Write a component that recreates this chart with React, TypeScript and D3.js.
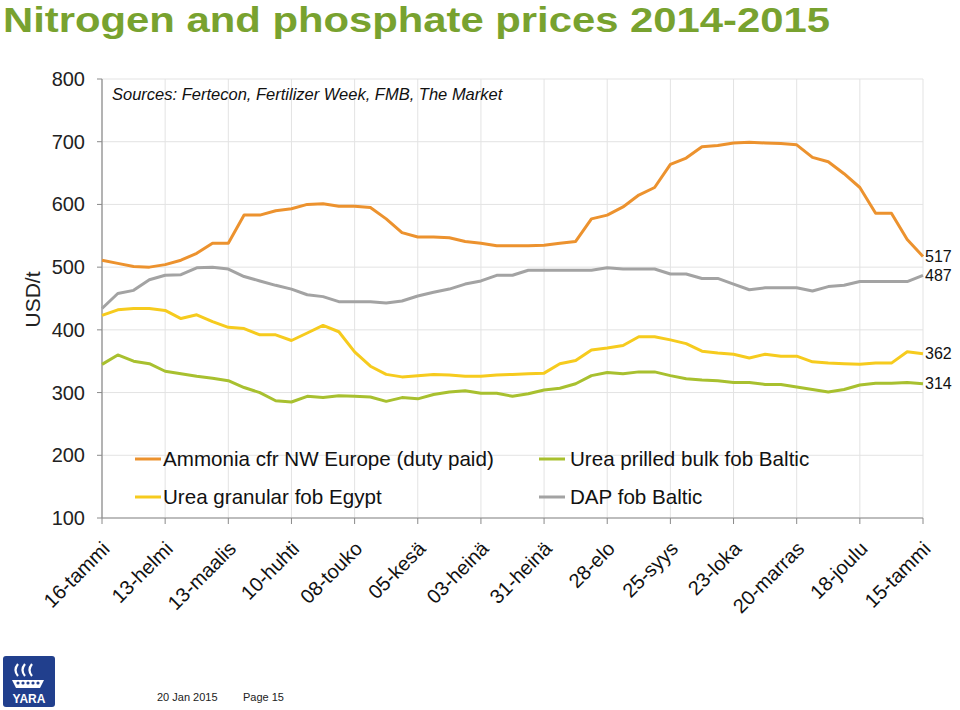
import React from "react";
import * as d3 from "d3";

const tickLabels = ["16-tammi","13-helmi","13-maalis","10-huhti","08-touko","05-kesä","03-heinä","31-heinä","28-elo","25-syys","23-loka","20-marras","18-joulu","15-tammi"];

const ammonia = [511,506,501,500,504,511,522,538,538,583,583,590,593,600,601,597,597,595,577,555,548,548,547,541,538,534,534,534,535,538,541,577,583,596,615,627,664,674,692,694,698,699,698,697,695,675,668,649,627,586,586,544,517];
const dap = [434,458,463,480,487,488,499,500,497,485,478,471,465,456,453,445,445,445,443,446,454,460,465,473,478,487,487,495,495,495,495,495,499,497,497,497,489,489,482,482,473,464,467,467,467,462,469,471,477,477,477,477,487];
const ureaGranular = [423,432,434,434,431,418,424,413,404,402,392,392,383,395,407,397,365,342,329,325,327,329,328,326,326,328,329,330,331,346,351,368,371,375,389,389,384,378,366,363,361,355,361,358,358,349,347,346,345,347,347,365,362];
const ureaPrilled = [345,360,350,346,334,330,326,323,319,308,300,287,285,294,292,295,294,293,286,292,290,297,301,303,299,299,294,298,304,307,314,327,332,330,333,333,327,322,320,319,316,316,313,313,309,305,301,305,312,315,315,316,314];

const yTicks = [800,700,600,500,400,300,200,100];

const seriesNames = ["Ammonia cfr NW Europe (duty paid)","Urea granular fob Egypt","Urea prilled bulk fob Baltic","DAP fob Baltic"];
const endLabels = ["517","362","314","487"];

const COLORS = ["#EC922E", "#F6CB1E", "#A8C02F", "#A3A3A3"];

export default function App() {
  const x0 = 102, x1 = 923, yTop = 79, yBot = 518;
  const n = ammonia.length;
  const x = d3.scaleLinear().domain([0, n - 1]).range([x0, x1]);
  const y = d3.scaleLinear().domain([100, 800]).range([yBot, yTop]);
  const line = d3.line<number>().x((_, i) => x(i)).y((v) => y(v));
  const series = [ammonia, ureaGranular, ureaPrilled, dap];
  const tickIdx = tickLabels.map((_, i) => i * 4);
  const font = "Liberation Sans, Arial, Helvetica, sans-serif";

  return (
    <svg width={960} height={710} style={{ position: "absolute", left: 0, top: 0, background: "#fff" }} fontFamily={font}>
      <rect width={960} height={710} fill="#fff" />
      <text x={3} y={32} fontFamily="'Liberation Sans Narrow', 'Arial Narrow', 'Liberation Sans', sans-serif" fontWeight="bold" fontSize={35} fill="#78A22F" textLength={827} lengthAdjust="spacingAndGlyphs">Nitrogen and phosphate prices 2014-2015</text>

      {/* grid */}
      {yTicks.map((t) => (
        <line key={"gy" + t} x1={x0} x2={x1} y1={y(t)} y2={y(t)} stroke="#e3e3e3" strokeWidth={1} />
      ))}
      {tickIdx.map((ti) => (
        <line key={"gx" + ti} x1={x(ti)} x2={x(ti)} y1={yTop} y2={yBot} stroke="#e3e3e3" strokeWidth={1} />
      ))}

      {/* axes */}
      <line x1={x0} x2={x0} y1={yTop} y2={yBot} stroke="#8a8a8a" strokeWidth={1.2} />
      <line x1={x0} x2={x1} y1={yBot} y2={yBot} stroke="#8a8a8a" strokeWidth={1.2} />
      {yTicks.map((t) => (
        <g key={"yt" + t}>
          <line x1={x0 - 5} x2={x0} y1={y(t)} y2={y(t)} stroke="#8a8a8a" />
          <text x={85} y={y(t)} dy="0.35em" textAnchor="end" fontSize={20} fill="#222">{t}</text>
        </g>
      ))}
      {tickIdx.map((ti, k) => (
        <g key={"xt" + ti}>
          <line x1={x(ti)} x2={x(ti)} y1={yBot} y2={yBot + 6} stroke="#8a8a8a" />
          <text transform={`translate(${x(ti) + 9},${yBot + 32}) rotate(-45)`} textAnchor="end" fontSize={20} fill="#111">{tickLabels[k]}</text>
        </g>
      ))}
      <text transform={`translate(40,${(yTop + yBot) / 2 + 1}) rotate(-90)`} textAnchor="middle" fontSize={21} fill="#222">USD/t</text>

      <text x={112} y={100} fontSize={16.5} fontStyle="italic" fill="#111">Sources: Fertecon, Fertilizer Week, FMB, The Market</text>

      {/* lines */}
      {[3, 2, 1, 0].map((s) => (
        <path key={"s" + s} d={line(series[s]) || ""} fill="none" stroke={COLORS[s]} strokeWidth={3} strokeLinejoin="round" />
      ))}

      {/* end labels */}
      {series.map((arr, s) => (
        <text key={"el" + s} x={x1 + 2} y={y(arr[n - 1])} dy="0.35em" fontSize={16} fill="#111">{endLabels[s]}</text>
      ))}

      {/* legend */}
      {seriesNames.map((nm, k) => {
        const col = k < 2 ? 0 : 1;
        const row = k % 2;
        const lx = col === 0 ? 135 : 539;
        const ly = row === 0 ? 459 : 497;
        return (
          <g key={"lg" + k}>
            <line x1={lx} x2={lx + 26} y1={ly} y2={ly} stroke={COLORS[k]} strokeWidth={3} />
            <text x={lx + (col === 0 ? 28 : 31)} y={ly} dy="0.35em" fontSize={20.6} fill="#111">{nm}</text>
          </g>
        );
      })}

      {/* footer */}
      <g>
        <rect x={3} y={656} width={52} height={51} rx={3} fill="#213F8D" />
        <path d="M18 664 q-5 6 0 12 M25 664 q-5 6 0 12 M32 664 q-5 6 0 12" stroke="#fff" strokeWidth={2.2} fill="none" />
        <path d="M12 680 h32 l-4 8 h-24 z" fill="#fff" />
        {[18, 23, 28, 33, 38].map((cx) => (
          <circle key={cx} cx={cx} cy={683} r={1.6} fill="#213F8D" />
        ))}
        <text x={29} y={703} textAnchor="middle" fontSize={12} fontWeight="bold" fill="#fff">YARA</text>
      </g>
      <text x={157} y={701} fontSize={11} fill="#222">20 Jan 2015</text>
      <text x={243} y={701} fontSize={11} fill="#222">Page 15</text>
    </svg>
  );
}
